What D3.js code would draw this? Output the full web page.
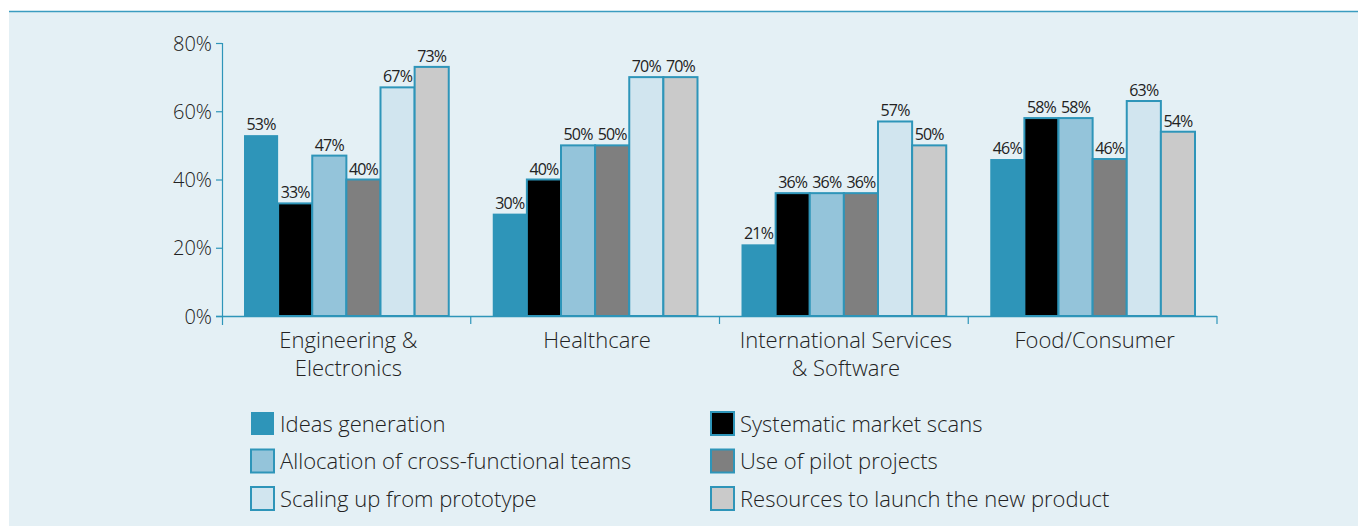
<!DOCTYPE html>
<html>
<head>
<meta charset="utf-8">
<script src="https://cdn.jsdelivr.net/npm/d3@7"></script>
<style>
  body { margin: 0; background: #fff; }
  svg text { font-family: "Open Sans", "Noto Sans", sans-serif; fill: #222; font-weight: 300; }
</style>
</head>
<body>
<div id="chart"></div>
<script>
// Data
const categories = [["Engineering &", "Electronics"], ["Healthcare"], ["International Services", "& Software"], ["Food/Consumer"]];
const series = ["Ideas generation", "Systematic market scans", "Allocation of cross-functional teams",
                "Use of pilot projects", "Scaling up from prototype", "Resources to launch the new product"];
const values = [
  [53, 33, 47, 40, 67, 73],
  [30, 40, 50, 50, 70, 70],
  [21, 36, 36, 36, 57, 50],
  [46, 58, 58, 46, 63, 54]
];
const yTicks = [0, 20, 40, 60, 80];

const fills = ["#2e95b9", "#000000", "#94c4da", "#7f7f7f", "#d1e5ef", "#cacaca"];
const blue = "#2e95b9";

let width = 1358, height = 526;
let margin = { top: 43, left: 222, right: 141 };
let zeroY = 316;

let svg = d3.select('#chart')
  .append('svg')
  .attr('width', width)
  .attr('height', height);

// panel background + top rule
svg.append('rect')
  .attr('x', 9).attr('y', 11)
  .attr('width', width - 9).attr('height', height - 11)
  .attr('fill', '#e4f0f5');
svg.append('line')
  .attr('x1', 9).attr('x2', width)
  .attr('y1', 11.5).attr('y2', 11.5)
  .attr('stroke', '#3a9cc0').attr('stroke-width', 1.5);

const keys = categories.map((c, i) => i);

let x0 = d3.scaleBand()
  .domain(keys)
  .range([margin.left, width - margin.right]);

let x1 = d3.scaleBand()
  .domain(series)
  .range([22, x0.bandwidth() - 22]);

let y = d3.scaleLinear()
  .domain([0, 80])
  .range([zeroY, margin.top]);

// y axis
let yAxis = svg.append('g')
  .attr('transform', `translate(${margin.left},0)`)
  .call(d3.axisLeft(y).tickValues(yTicks).tickFormat(d => d + '%').tickSize(6).tickSizeOuter(0));
yAxis.select('.domain').attr('stroke', blue).attr('stroke-width', 1.2)
  .attr('d', `M0.5,43V325`);
yAxis.selectAll('.tick line').attr('stroke', blue).attr('stroke-width', 1.2);
yAxis.selectAll('.tick text')
  .attr('x', -10)
  .style('font-size', '20px')
  .attr('dy', '0.35em');

// bars
let groups = svg.selectAll('.grp')
  .data(values)
  .enter()
  .append('g')
  .attr('transform', (d, i) => `translate(${x0(i)},0)`);

groups.selectAll('rect')
  .data(d => d.map((v, j) => ({ v: v, s: series[j], j: j })))
  .enter()
  .append('rect')
  .attr('x', d => x1(d.s))
  .attr('y', d => y(d.v))
  .attr('width', x1.bandwidth())
  .attr('height', d => zeroY - y(d.v))
  .attr('fill', d => fills[d.j])
  .attr('stroke', d => d.j === 0 ? 'none' : blue)
  .attr('stroke-width', 2);

groups.selectAll('.lbl')
  .data(d => d.map((v, j) => ({ v: v, s: series[j] })))
  .enter()
  .append('text')
  .attr('x', d => x1(d.s) + x1.bandwidth() / 2)
  .attr('y', d => y(d.v) - 5)
  .attr('text-anchor', 'middle')
  .style('font-size', '16px')
  .style('font-weight', 400)
  .style('letter-spacing', '-0.8px')
  .text(d => d.v + '%');

// x axis
let xAxis = svg.append('g');
xAxis.append('line')
  .attr('x1', 216).attr('x2', width - margin.right)
  .attr('y1', zeroY + 0.5).attr('y2', zeroY + 0.5)
  .attr('stroke', blue).attr('stroke-width', 1.5);
xAxis.selectAll('.xt')
  .data(keys.slice(1).concat([keys.length]))
  .enter()
  .append('line')
  .attr('x1', d => d < keys.length ? x0(d) : x0.range()[1])
  .attr('x2', d => d < keys.length ? x0(d) : x0.range()[1])
  .attr('y1', zeroY).attr('y2', zeroY + 8)
  .attr('stroke', blue).attr('stroke-width', 1.2);

xAxis.selectAll('.cat')
  .data(categories)
  .enter()
  .append('text')
  .attr('text-anchor', 'middle')
  .attr('x', (d, i) => x0(i) + x0.bandwidth() / 2 + 2)
  .attr('y', 348)
  .style('font-size', '22px')
  .selectAll('tspan')
  .data(d => d)
  .enter()
  .append('tspan')
  .attr('x', function() { return d3.select(this.parentNode).attr('x'); })
  .attr('dy', (d, i) => i === 0 ? 0 : 28)
  .text(d => d);

// legend
const legend = svg.append('g');
series.forEach((s, i) => {
  let col = i % 2, row = Math.floor(i / 2);
  let lx = col === 0 ? 251 : 711;
  let ly = 412 + row * 37.5;
  legend.append('rect')
    .attr('x', lx).attr('y', ly)
    .attr('width', 23).attr('height', 23)
    .attr('fill', fills[i])
    .attr('stroke', i === 0 ? 'none' : blue)
    .attr('stroke-width', 2);
  legend.append('text')
    .attr('x', lx + 29)
    .attr('y', ly + 12)
    .attr('dy', '0.35em')
    .style('font-size', '22px')
    .text(s);
});
</script>
</body>
</html>
